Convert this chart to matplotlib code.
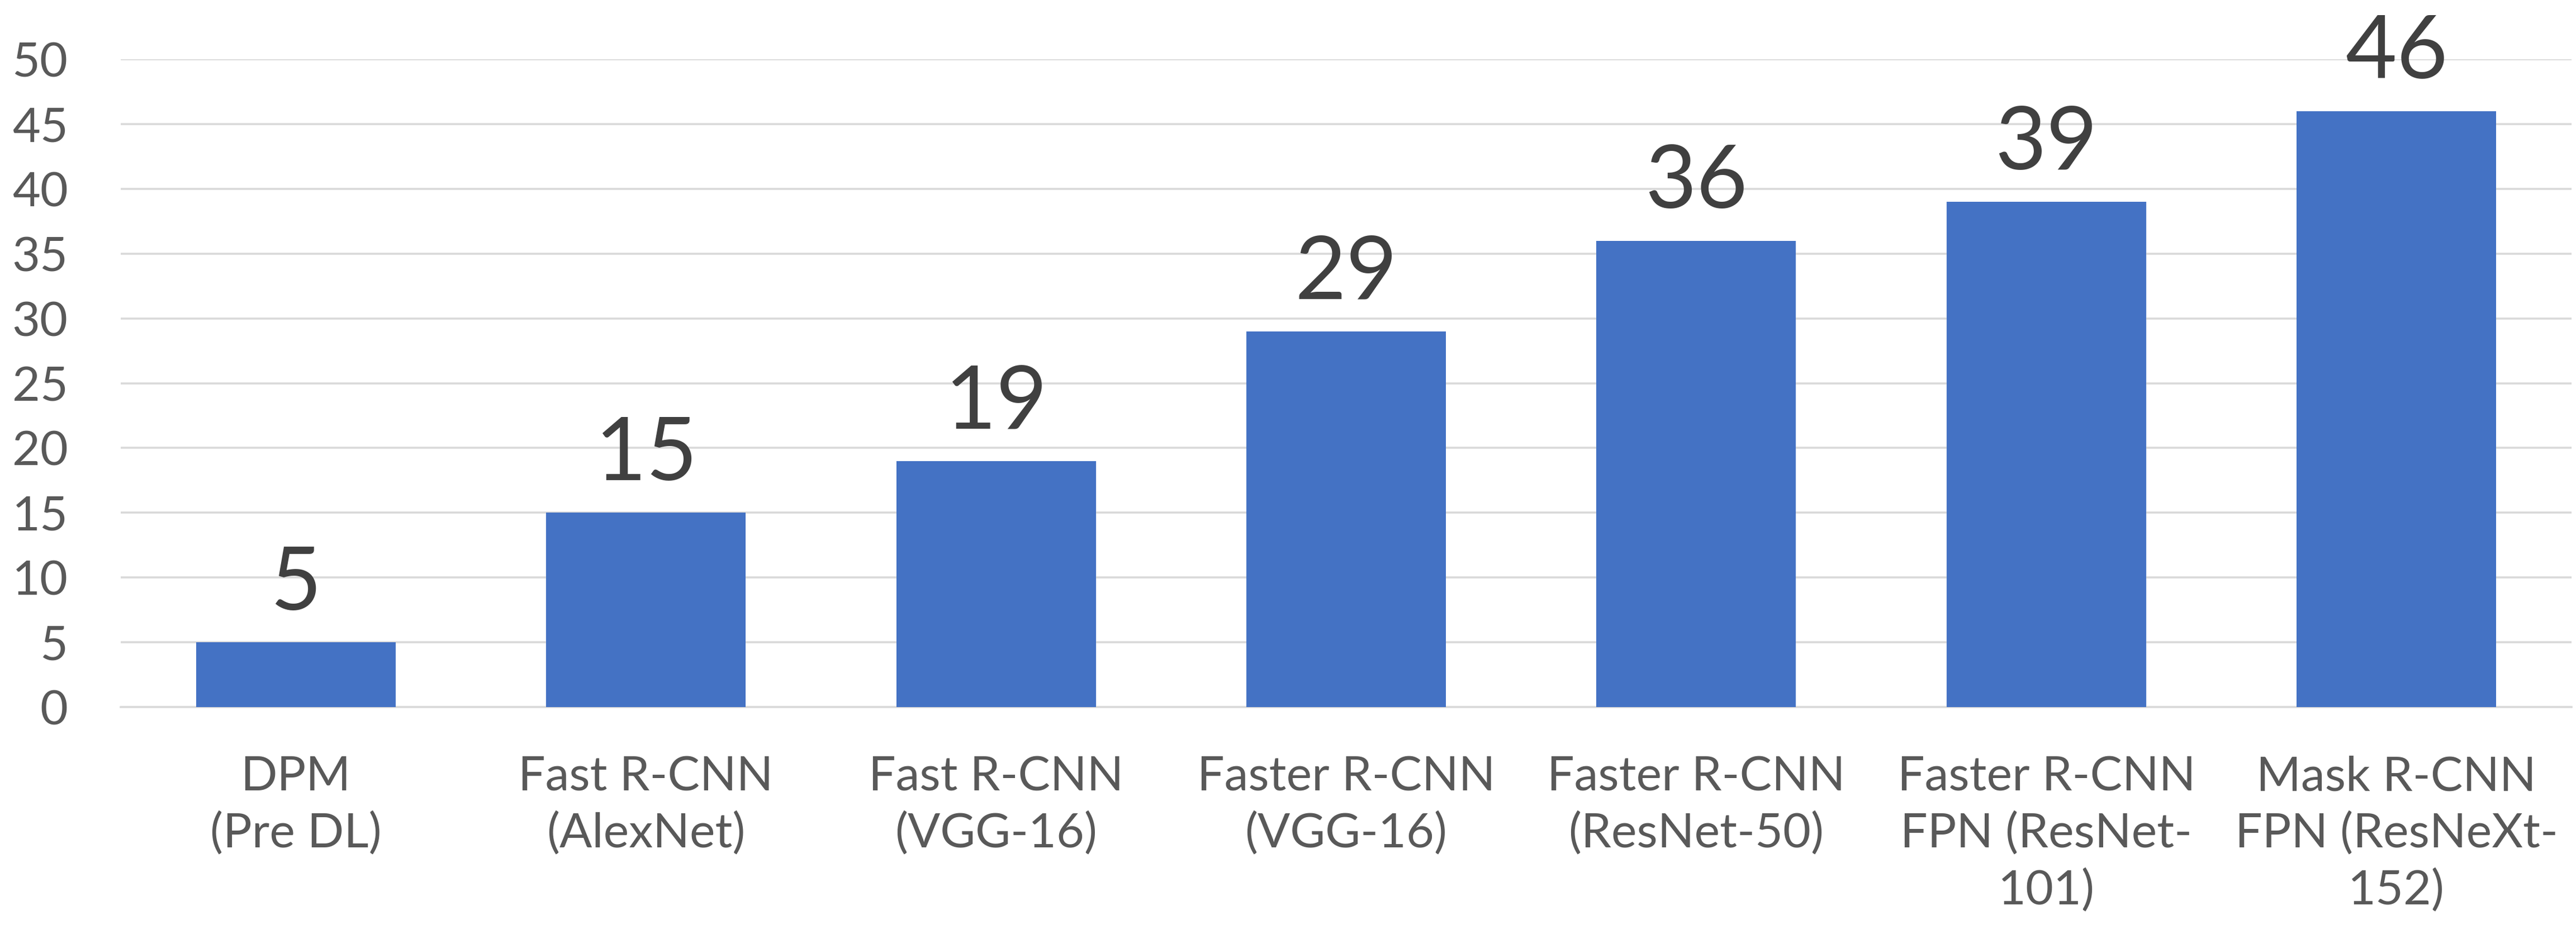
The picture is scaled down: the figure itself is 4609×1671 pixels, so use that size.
import matplotlib
matplotlib.use("Agg")
import matplotlib.pyplot as plt

categories = ["DPM\n(Pre DL)", "Fast R-CNN\n(AlexNet)", "Fast R-CNN\n(VGG-16)",
              "Faster R-CNN\n(VGG-16)", "Faster R-CNN\n(ResNet-50)",
              "Faster R-CNN\nFPN (ResNet-\n101)", "Mask R-CNN\nFPN (ResNeXt-\n152)"]
values = [5, 15, 19, 29, 36, 39, 46]
yticks = [0, 5, 10, 15, 20, 25, 30, 35, 40, 45, 50]

plt.rcParams['font.family'] = ['Lato', 'DejaVu Sans']

W, H, DPI = 4609, 1671, 100
fig = plt.figure(figsize=(W / DPI, H / DPI), dpi=DPI)
ax = fig.add_axes([216 / W, (H - 1265) / H, (4601 - 216) / W, (1265 - 106) / H])

x = list(range(len(values)))
bars = ax.bar(x, values, width=0.57, color='#4472C4', zorder=3)

ax.set_xlim(-0.5, len(values) - 0.5)
ax.set_ylim(0, 50)
ax.set_yticks(yticks)
ax.set_yticklabels([str(t) for t in yticks])
ax.set_xticks(x)
ax.set_xticklabels(categories, linespacing=1.36)

ax.grid(axis='y', color='#D9D9D9', linewidth=2.6, zorder=0)
ax.set_axisbelow(True)
for s in ['top', 'right', 'left']:
    ax.spines[s].set_visible(False)
ax.spines['bottom'].set_color('#D9D9D9')
ax.spines['bottom'].set_linewidth(2.6)

ax.tick_params(axis='y', length=0, pad=68, labelsize=62, labelcolor='#595959')
ax.tick_params(axis='x', length=0, pad=62, labelsize=62, labelcolor='#595959')

for xi, v in zip(x, values):
    ax.annotate(str(v), (xi, v), xytext=(0, 42), textcoords='offset points',
                ha='center', va='baseline', fontsize=114, color='#404040',
                annotation_clip=False)

fig.savefig('out.png', dpi=DPI, facecolor='white')
